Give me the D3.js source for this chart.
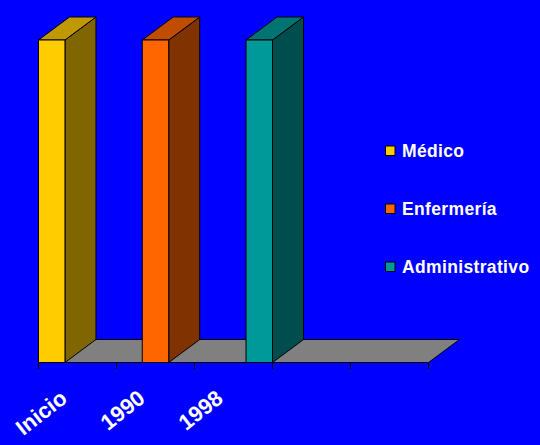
<!DOCTYPE html>
<html>
<head>
<meta charset="utf-8">
<script src="https://cdn.jsdelivr.net/npm/d3@7"></script>
<style>
  html, body { margin: 0; padding: 0; background: #0000FF; }
  svg { display: block; }
  text { font-family: "Liberation Sans", Arial, sans-serif; font-weight: bold; fill: #FFFFFF; }
</style>
</head>
<body>
<svg id="chart" width="540" height="445"></svg>
<script>
// Category axis labels (the last two slots are unlabeled)
const categories = ["Inicio", "1990", "1998", "", ""];
// Staff groups shown as columns
const seriesNames = ["Médico", "Enfermería", "Administrativo"];
const seriesValues = [100, 100, 100];
// Face colours per series: front, top, side
const frontColors = ["#FFCC00", "#FF6600", "#009999"];
const topColors   = ["#C09900", "#C04C00", "#007373"];
const sideColors  = ["#806600", "#803300", "#004D4D"];

const svg = d3.select("#chart");
const W = 540, H = 445;
svg.append("rect").attr("width", W).attr("height", H).attr("fill", "#0000FF");

// Plot frame
const x0 = 38.5, x1 = 428.5;      // front floor edge
const yBase = 362.5, yTop = 40;   // front base / top of value scale
const depth = { dx: 31, dy: -23 }; // oblique depth offset

// Category axis scale
const xCat = d3.scaleBand().domain(d3.range(categories.length)).range([x0, x1]).padding(0);
// Columns spread across the first three category slots
const xSeries = d3.scaleBand()
  .domain(seriesNames)
  .range([x0, xCat(2) + xCat.bandwidth()])
  .paddingInner(0.745)
  .paddingOuter(0);
const y = d3.scaleLinear().domain([0, 100]).range([yBase, yTop]);

// Floor
const floor = [
  [x0, yBase], [x1, yBase],
  [x1 + depth.dx, yBase + depth.dy], [x0 + depth.dx, yBase + depth.dy]
];
svg.append("polygon")
  .attr("points", floor.map(p => p.join(",")).join(" "))
  .attr("fill", "#808080")
  .attr("stroke", "#000")
  .attr("stroke-width", 1);

// Ticks
const tickPositions = d3.range(categories.length + 1).map(i => i === categories.length ? x1 : xCat(i));
svg.append("g").selectAll("line").data(tickPositions).join("line")
  .attr("x1", d => d).attr("x2", d => d)
  .attr("y1", yBase).attr("y2", yBase + 6.5)
  .attr("stroke", "#000").attr("stroke-width", 1);

// Columns
const bars = svg.append("g");
seriesNames.forEach((name, i) => {
  const bx = xSeries(name), bw = xSeries.bandwidth();
  const by = y(seriesValues[i]), bb = y(0);
  const g = bars.append("g");
  const poly = pts => pts.map(p => p.join(",")).join(" ");
  // side face
  g.append("polygon")
    .attr("points", poly([[bx + bw, bb], [bx + bw + depth.dx, bb + depth.dy],
                          [bx + bw + depth.dx, by + depth.dy], [bx + bw, by]]))
    .attr("fill", sideColors[i]).attr("stroke", "#000").attr("stroke-width", 1);
  // top face
  g.append("polygon")
    .attr("points", poly([[bx, by], [bx + bw, by],
                          [bx + bw + depth.dx, by + depth.dy], [bx + depth.dx, by + depth.dy]]))
    .attr("fill", topColors[i]).attr("stroke", "#000").attr("stroke-width", 1);
  // front face
  g.append("rect")
    .attr("x", bx).attr("y", by).attr("width", bw).attr("height", bb - by)
    .attr("fill", frontColors[i]).attr("stroke", "#000").attr("stroke-width", 1);
});

// Rotated category labels
svg.append("g").selectAll("text").data(categories).join("text")
  .attr("text-anchor", "end")
  .attr("font-size", 22)
  .attr("transform", (d, i) => `translate(${xCat(i) + xCat.bandwidth() / 2 - 9},401) rotate(-38)`)
  .text(d => d);

// Legend
const legend = svg.append("g");
seriesNames.forEach((name, i) => {
  const ly = 146 + i * 58;
  legend.append("rect")
    .attr("x", 385.5).attr("y", ly).attr("width", 9.5).attr("height", 9.5)
    .attr("fill", frontColors[i]).attr("stroke", "#000").attr("stroke-width", 1);
  legend.append("text")
    .attr("x", 402).attr("y", ly + 11)
    .attr("font-size", 17.5)
    .attr("letter-spacing", 0.35)
    .text(name);
});
</script>
</body>
</html>
